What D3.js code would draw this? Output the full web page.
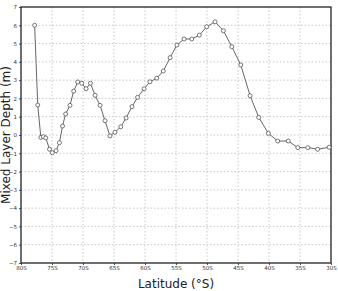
<!DOCTYPE html>
<html>
<head>
<meta charset="utf-8">
<script src="https://cdn.jsdelivr.net/npm/d3@7"></script>
<style>
  body { margin: 0; background: #fff; }
  svg { display: block; }
</style>
</head>
<body>
<div id="chart"></div>
<script>
// latitude (degrees south) and mixed layer depth readings
const latitudes = [77.8, 77.3, 76.8, 76.4, 76.0, 75.4, 74.95, 74.35, 73.8, 73.3,
  72.8, 72.1, 71.5, 70.85, 70.2, 69.5, 68.8, 68.05, 67.25, 66.45,
  65.65, 64.85, 63.9, 63.05, 62.1, 61.2, 60.15, 59.2, 58.1, 57.05,
  55.95, 54.85, 53.7, 52.45, 51.25, 50.05, 48.7, 47.35, 46.0, 44.55,
  43.05, 41.65, 40.1, 38.6, 36.9, 35.35, 33.75, 32.15, 30.3]
const depths = [6.0, 1.64, -0.13, -0.09, -0.16, -0.78, -0.97, -0.86, -0.42, 0.49,
  1.15, 1.62, 2.4, 2.9, 2.83, 2.53, 2.83, 2.17, 1.62, 0.78,
  -0.05, 0.15, 0.45, 0.93, 1.55, 2.06, 2.53, 2.91, 3.11, 3.5,
  4.23, 4.92, 5.25, 5.25, 5.46, 5.92, 6.19, 5.7, 4.83, 3.83,
  2.15, 0.96, 0.09, -0.33, -0.33, -0.69, -0.69, -0.78, -0.67]
const xTicks = [80, 75, 70, 65, 60, 55, 50, 45, 40, 35, 30]
const yTicks = d3.range(-7, 8)

const width = 338, height = 291
const margin = { top: 7, right: 7, bottom: 28, left: 21 }

const svg = d3.select("#chart").append("svg")
  .attr("width", width).attr("height", height)

const x = d3.scaleLinear().domain([80, 30]).range([margin.left, width - margin.right])
const y = d3.scaleLinear().domain([-7, 7]).range([height - margin.bottom, margin.top])

// dotted grid
svg.append("g")
  .selectAll("line")
  .data(yTicks.slice(1, -1))
  .join("line")
  .attr("x1", margin.left).attr("x2", width - margin.right)
  .attr("y1", d => y(d)).attr("y2", d => y(d))
  .attr("stroke", "#c8c8c8").attr("stroke-dasharray", "1.5,2")

svg.append("g")
  .selectAll("line")
  .data(xTicks.slice(1, -1))
  .join("line")
  .attr("y1", margin.top).attr("y2", height - margin.bottom)
  .attr("x1", d => x(d)).attr("x2", d => x(d))
  .attr("stroke", "#c8c8c8").attr("stroke-dasharray", "1.5,2")

// axes
const xAxis = svg.append("g")
  .attr("transform", `translate(0,${height - margin.bottom})`)
  .call(d3.axisBottom(x).tickValues(xTicks).tickSize(2).tickPadding(1).tickFormat(d => d + "S"))
const yAxis = svg.append("g")
  .attr("transform", `translate(${margin.left},0)`)
  .call(d3.axisLeft(y).tickValues(yTicks).tickSize(2).tickPadding(2))

for (const g of [xAxis, yAxis]) {
  g.selectAll("text")
    .attr("font-family", "DejaVu Sans")
    .attr("font-size", 5.5)
    .attr("fill", "#333")
  g.select(".domain").remove()
  g.selectAll(".tick line").attr("stroke", "#555")
}

// frame
svg.append("rect")
  .attr("x", margin.left).attr("y", margin.top)
  .attr("width", width - margin.left - margin.right)
  .attr("height", height - margin.top - margin.bottom)
  .attr("fill", "none").attr("stroke", "#222").attr("stroke-width", 1.3)

// line + open circle markers
const pts = latitudes.map((lat, i) => ({ lat, v: depths[i] }))

svg.append("path")
  .datum(pts)
  .attr("fill", "none")
  .attr("stroke", "#666")
  .attr("stroke-width", 1)
  .attr("d", d3.line().x(d => x(d.lat)).y(d => y(d.v)))

svg.append("g")
  .selectAll("circle")
  .data(pts)
  .join("circle")
  .attr("cx", d => x(d.lat)).attr("cy", d => y(d.v))
  .attr("r", 2)
  .attr("fill", "#fff")
  .attr("stroke", "#555")
  .attr("stroke-width", 0.8)

// axis labels
svg.append("text")
  .attr("x", (margin.left + width - margin.right) / 2)
  .attr("y", 288)
  .attr("text-anchor", "middle")
  .attr("font-family", "DejaVu Sans")
  .attr("font-size", 12)
  .attr("fill", "#222")
  .text("Latitude (°S)")

svg.append("text")
  .attr("transform", `translate(10,${y(0)}) rotate(-90)`)
  .attr("text-anchor", "middle")
  .attr("font-family", "DejaVu Sans")
  .attr("font-size", 12)
  .attr("fill", "#222")
  .text("Mixed Layer Depth (m)")
</script>
</body>
</html>
